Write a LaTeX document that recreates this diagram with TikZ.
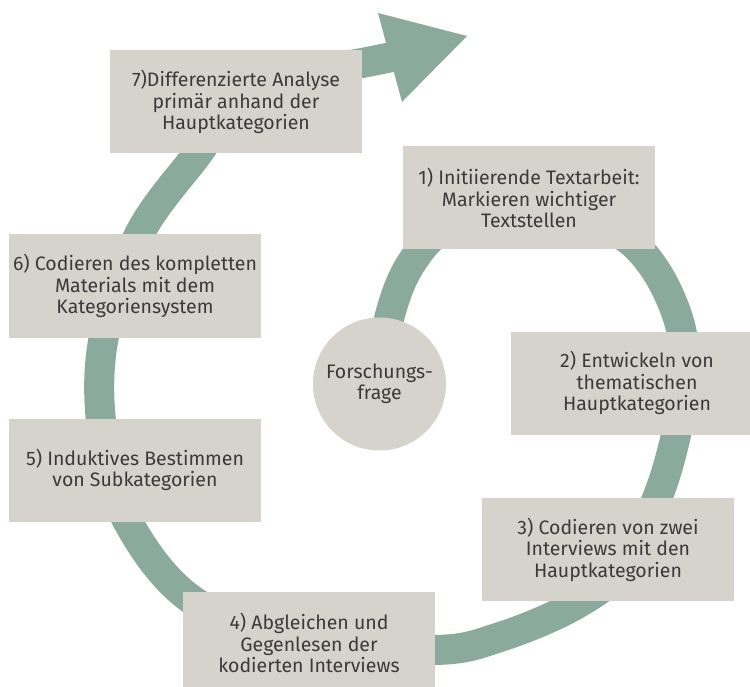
\documentclass[tikz,border=0pt]{standalone}
\usepackage{fontspec}
\setmainfont{Fira Sans}
\usetikzlibrary{backgrounds}
\definecolor{band}{HTML}{8AAA9E}
\definecolor{boxfill}{HTML}{D6D3CC}
\definecolor{txt}{HTML}{3A3A3A}
\begin{document}
\begin{tikzpicture}[x=1pt,y=-1pt,
  stepbox/.style={fill=boxfill, minimum width=252pt, minimum height=103pt, inner sep=0pt,
    align=center, text=txt, font=\fontsize{19.5}{21.5}\selectfont},
  hub/.style={circle, fill=boxfill, minimum size=133pt, inner sep=0pt, align=center,
    text=txt, font=\fontsize{19.5}{21.5}\selectfont},
  bandline/.style={draw=band, line width=30pt, line cap=butt}]
\useasboundingbox (0,0) rectangle (750,687);
\node[hub] (c) at (379.5,384) {Forschungs-\\frage};
\node[stepbox] (b1) at (529,198) {1) Initiierende Textarbeit:\\Markieren wichtiger\\Textstellen};
\node[stepbox] (b2) at (637,383) {2) Entwickeln von\\thematischen\\Hauptkategorien};
\node[stepbox] (b3) at (608,549.5) {3) Codieren von zwei\\Interviews mit den\\Hauptkategorien};
\node[stepbox] (b4) at (309,643) {4) Abgleichen und\\Gegenlesen der\\kodierten Interviews};
\node[stepbox] (b5) at (135,470) {5) Induktives Bestimmen\\von Subkategorien};
\node[stepbox] (b6) at (135,286) {6) Codieren des kompletten\\Materials mit dem\\Kategoriensystem};
\node[stepbox] (b7) at (236,102) {7)Differenzierte Analyse\\primär anhand der\\Hauptkategorien};
\coordinate (tipbase) at (392,57);
\begin{scope}[on background layer]
\draw[bandline] plot[smooth, tension=0.6] coordinates {
  (c) (390,315) (412,262) (450,225) (530,200) (610,228) (652,265) (680,325) (684,385)
  (676,435) (658,496) (625,565) (575,605) (500,637) (435,650) (309,641.5) (195,602)
  (127,520) (102,430) (104,336) (140,233) (199,152) (236,100.5) (300,75) (362,63) (tipbase)};
\end{scope}
\fill[band] (378,13) -- (467,36) -- (402,102) -- cycle;
\end{tikzpicture}
\end{document}
